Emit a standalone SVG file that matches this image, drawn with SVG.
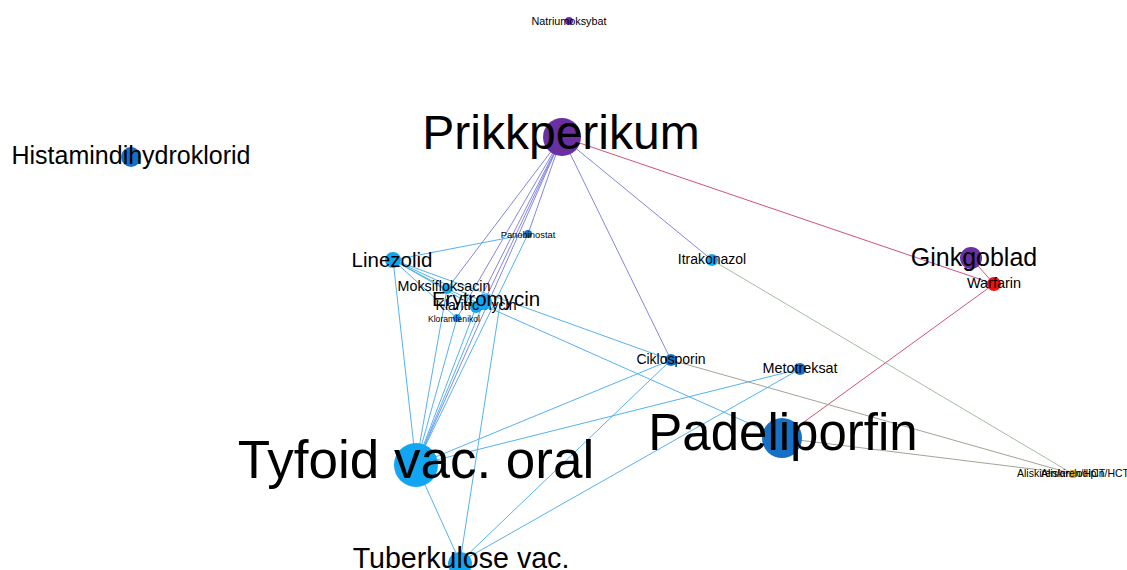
<svg xmlns="http://www.w3.org/2000/svg" width="1127" height="570" viewBox="0 0 1127 570">
  <style>
    text { font-family: "Liberation Sans", Arial, sans-serif; fill: #000; text-anchor: middle; }
    .e { fill: none; stroke-width: 1; }
    .lb { stroke: #55b2f0; }
    .pb { stroke: #8486e0; }
    .rd { stroke: #d2507a; }
    .gr { stroke: #a3a394; }
    .gg { stroke: #a4bca4; }
    .purple { fill: #6a2fa0; }
    .light { fill: #12a6f2; }
    .dark { fill: #1670c6; }
    .red { fill: #f01212; }
    .orange { fill: #e2a226; }
  </style>
  <rect width="1127" height="570" fill="#fff"/>

  <g id="edges">
    <!-- Prikkperikum -->
    <line class="e pb" x1="562" y1="137" x2="528" y2="234"/>
    <line class="e pb" x1="562" y1="137" x2="447" y2="289"/>
    <line class="e pb" x1="562" y1="137" x2="484" y2="302"/>
    <line class="e pb" x1="562" y1="137" x2="476" y2="307"/>
    <line class="e pb" x1="562" y1="137" x2="457" y2="318"/>
    <line class="e pb" x1="562" y1="137" x2="416" y2="465"/>
    <line class="e pb" x1="562" y1="137" x2="712" y2="260"/>
    <line class="e pb" x1="562" y1="137" x2="671" y2="360"/>
    <line class="e rd" x1="562" y1="137" x2="994" y2="284"/>
    <!-- Warfarin -->
    <line class="e rd" x1="971" y1="258" x2="994" y2="284"/>
    <line class="e rd" x1="994" y1="284" x2="782" y2="438"/>
    <!-- Linezolid -->
    <line class="e lb" x1="393" y1="260" x2="528" y2="234"/>
    <line class="e lb" x1="393" y1="260" x2="447" y2="289"/>
    <line class="e lb" x1="393" y1="260" x2="484" y2="302"/>
    <line class="e lb" x1="393" y1="260" x2="476" y2="307"/>
    <line class="e lb" x1="393" y1="260" x2="457" y2="318"/>
    <line class="e lb" x1="393" y1="260" x2="671" y2="360"/>
    <line class="e lb" x1="393" y1="260" x2="416" y2="465"/>
    <line class="e lb" x1="447" y1="289" x2="782" y2="438"/>
    <!-- Tyfoid vac. oral -->
    <line class="e lb" x1="416" y1="465" x2="528" y2="234"/>
    <line class="e lb" x1="416" y1="465" x2="447" y2="289"/>
    <line class="e lb" x1="416" y1="465" x2="484" y2="302"/>
    <line class="e lb" x1="416" y1="465" x2="476" y2="307"/>
    <line class="e lb" x1="416" y1="465" x2="457" y2="318"/>
    <line class="e lb" x1="416" y1="465" x2="671" y2="360"/>
    <line class="e lb" x1="416" y1="465" x2="800" y2="369"/>
    <line class="e lb" x1="416" y1="465" x2="460" y2="562"/>
    <!-- Tuberkulose vac. -->
    <line class="e lb" x1="460" y1="562" x2="500" y2="304"/>
    <line class="e lb" x1="460" y1="562" x2="671" y2="360"/>
    <line class="e lb" x1="460" y1="562" x2="800" y2="369"/>
    <!-- Aliskiren -->
    <line class="e gg" x1="712" y1="260" x2="1073" y2="474"/>
    <line class="e gr" x1="671" y1="360" x2="1073" y2="474"/>
    <line class="e gr" x1="782" y1="438" x2="1073" y2="474"/>
  </g>

  <g id="n-natriumoksybat"><circle class="purple" cx="569" cy="21" r="4"/><text x="569" y="25" font-size="10.8">Natriumoksybat</text></g>
  <g id="n-histamin"><circle class="dark" cx="131" cy="157" r="10"/><text x="131" y="164" font-size="25">Histamindihydroklorid</text></g>
  <g id="n-panobinostat"><circle class="dark" cx="528" cy="234" r="4"/><text x="528" y="238" font-size="9.4">Panobinostat</text></g>
  <g id="n-linezolid"><circle class="light" cx="393" cy="260" r="8"/><text x="392" y="267" font-size="20.5">Linezolid</text></g>
  <g id="n-itrakonazol"><circle class="light" cx="712" cy="260" r="6"/><text x="712" y="264" font-size="14">Itrakonazol</text></g>
  <g id="n-moksifloksacin"><circle class="light" cx="447" cy="289" r="5"/><text x="444" y="291" font-size="14.3">Moksifloksacin</text></g>
  <g id="n-klaritromycin"><circle class="light" cx="476" cy="307" r="6"/><text x="476" y="310" font-size="14">Klaritromycin</text></g>
  <g id="n-kloramfenikol"><circle class="light" cx="457" cy="318" r="4"/><text x="454" y="322" font-size="8.6">Kloramfenikol</text></g>
  <g id="n-erytromycin"><circle class="light" cx="484" cy="302" r="8"/><text x="486" y="306" font-size="20.5">Erytromycin</text></g>
  <g id="n-ciklosporin"><circle class="dark" cx="671" cy="360" r="6"/><text x="671" y="364" font-size="14">Ciklosporin</text></g>
  <g id="n-metotreksat"><circle class="dark" cx="800" cy="369" r="6"/><text x="800" y="373" font-size="14.4">Metotreksat</text></g>
  <g id="n-ginkgoblad"><circle class="purple" cx="971" cy="258" r="11"/><text x="974" y="266" font-size="25">Ginkgoblad</text></g>
  <g id="n-warfarin"><circle class="red" cx="994" cy="284" r="7"/><text x="994" y="288" font-size="14.5">Warfarin</text></g>
  <g id="n-aliskiren-amlodipin-hct"><circle class="orange" cx="1073" cy="474" r="4"/><text x="1073" y="477" font-size="10.5">Aliskiren/amlodipin/HCT</text></g>
  <g id="n-aliskiren-hct"><circle class="orange" cx="1073" cy="474" r="4"/><text x="1073" y="477" font-size="10.5">Aliskiren/HCT</text></g>
  <g id="n-prikkperikum"><circle class="purple" cx="562" cy="137" r="19"/><text x="561" y="149" font-size="48">Prikkperikum</text></g>
  <g id="n-padeliporfin"><circle class="dark" cx="782" cy="438" r="20"/><text x="783" y="450" font-size="51">Padeliporfin</text></g>
  <g id="n-tyfoid"><circle class="light" cx="416" cy="465" r="22"/><text x="416" y="478" font-size="53">Tyfoid vac. oral</text></g>
  <g id="n-tuberkulose"><circle class="light" cx="460" cy="564" r="12"/><text x="461" y="568" font-size="28.6">Tuberkulose vac.</text></g>
</svg>
